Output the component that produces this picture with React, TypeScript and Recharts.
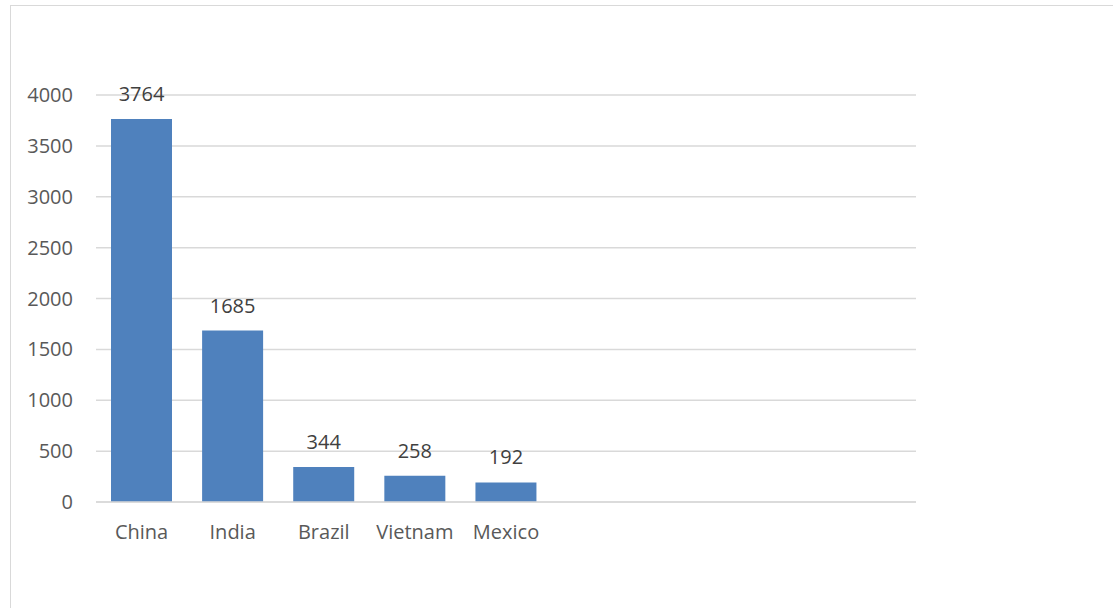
import { Bar, BarChart, CartesianGrid, LabelList, XAxis, YAxis } from "recharts";

// Country values
const COUNTRIES = ["China", "India", "Brazil", "Vietnam", "Mexico"];
const VALUES = [3764, 1685, 344, 258, 192];
// the source sheet had empty rows after Mexico, so the axis keeps room for them
const EMPTY_SLOTS = 4;
const Y_TICKS = [0, 500, 1000, 1500, 2000, 2500, 3000, 3500, 4000];

const rows = [
  ...COUNTRIES.map((name, i) => ({ name, value: VALUES[i] as number | null })),
  ...Array.from({ length: EMPTY_SLOTS }, () => ({ name: "", value: null as number | null })),
];

const FONT = "'Open Sans', 'Liberation Sans', sans-serif";
const GRID = "#d9d9d9";

export default function App() {
  return (
    <div
      style={{
        position: "absolute",
        left: 0,
        top: 0,
        width: 1113,
        height: 608,
        overflow: "hidden",
        background: "#fff",
      }}
    >
      {/* chart frame, runs off the right and bottom edge */}
      <div
        style={{
          position: "absolute",
          left: 10,
          top: 5,
          width: 1140,
          height: 640,
          border: `1.5px solid ${GRID}`,
        }}
      />
      <div style={{ position: "absolute", left: 0, top: 0 }}>
        <BarChart
          width={1113}
          height={608}
          data={rows}
          margin={{ top: 95, right: 197, bottom: 76, left: 36 }}
          style={{ fontFamily: FONT }}
        >
          <CartesianGrid vertical={false} stroke={GRID} strokeWidth={1.5} />
          <XAxis
            dataKey="name"
            height={30}
            tickLine={false}
            tickSize={0}
            tickMargin={23}
            axisLine={{ stroke: GRID, strokeWidth: 1.5 }}
            tick={{ fontSize: 20, fill: "#595959", fontFamily: FONT }}
            interval={0}
          />
          <YAxis
            width={60}
            domain={[0, 4000]}
            ticks={Y_TICKS}
            axisLine={false}
            tickLine={false}
            tickSize={0}
            tickMargin={23}
            tick={{ fontSize: 20, fill: "#595959", fontFamily: FONT }}
          />
          <Bar dataKey="value" fill="#4f81bd" barSize={61} isAnimationActive={false}>
            <LabelList
              dataKey="value"
              position="top"
              offset={18}
              style={{ fontSize: 20, fill: "#404040", fontFamily: FONT }}
            />
          </Bar>
        </BarChart>
      </div>
    </div>
  );
}
